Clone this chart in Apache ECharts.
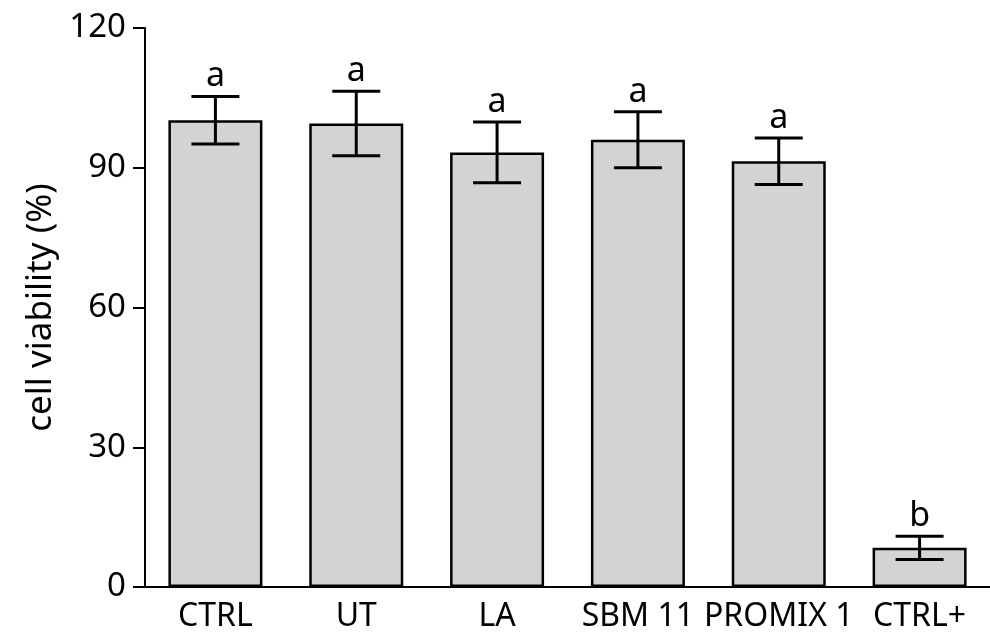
<!DOCTYPE html>
<html>
<head>
<meta charset="utf-8">
<script src="https://cdn.jsdelivr.net/npm/echarts@6/dist/echarts.min.js"></script>
<style>
  html, body { margin: 0; padding: 0; background: #fff; }
  #chart { width: 990px; height: 641px; }
</style>
</head>
<body>
<div id="chart"></div>
<script>
// data
const categories = ["CTRL", "UT", "LA", "SBM 11", "PROMIX 1", "CTRL+"]
const viability = [100.2, 99.5, 93.3, 96.0, 91.4, 8.4]
const errors = [5.1, 6.9, 6.5, 6.0, 5.0, 2.5]
const letters = ["a", "a", "a", "a", "a", "b"]
const yTicks = [0, 30, 60, 90, 120]

const font = "'Noto Sans', 'Open Sans', sans-serif"

const chart = echarts.init(document.getElementById("chart"))

const errData = categories.map((c, i) => [i, viability[i] - errors[i], viability[i] + errors[i], letters[i]])

chart.setOption({
  animation: false,
  grid: { left: 145, right: -3, top: 28, bottom: 54 },
  xAxis: {
    type: "category",
    data: categories,
    axisLine: { lineStyle: { color: "#000", width: 2 } },
    axisTick: { alignWithLabel: true, length: 15, lineStyle: { color: "#000", width: 2 } },
    axisLabel: { color: "#000", fontSize: 32, fontFamily: font, margin: 14, interval: 0 }
  },
  yAxis: {
    type: "value",
    min: yTicks[0],
    max: yTicks[yTicks.length - 1],
    interval: 30,
    name: "cell viability (%)",
    nameLocation: "middle",
    nameGap: 84,
    nameTextStyle: { color: "#000", fontSize: 35, fontFamily: font },
    splitLine: { show: false },
    axisLine: { show: true, lineStyle: { color: "#000", width: 2 } },
    axisTick: { show: true, length: 12, lineStyle: { color: "#000", width: 2 } },
    axisLabel: { color: "#000", fontSize: 33, fontFamily: font, margin: 19 }
  },
  series: [
    {
      type: "bar",
      data: viability,
      barWidth: 94,
      itemStyle: { color: "#d3d3d3", borderColor: "#000", borderWidth: 2.5 }
    },
    {
      type: "custom",
      data: errData,
      z: 10,
      renderItem: (params, api) => {
        const lo = api.coord([api.value(0), api.value(1)])
        const hi = api.coord([api.value(0), api.value(2)])
        const half = 24
        const style = { stroke: "#000", lineWidth: 3 }
        return {
          type: "group",
          children: [
            { type: "line", shape: { x1: hi[0], y1: hi[1], x2: lo[0], y2: lo[1] }, style },
            { type: "line", shape: { x1: hi[0] - half, y1: hi[1], x2: hi[0] + half, y2: hi[1] }, style },
            { type: "line", shape: { x1: lo[0] - half, y1: lo[1], x2: lo[0] + half, y2: lo[1] }, style },
            {
              type: "text",
              x: hi[0],
              y: hi[1] - 3,
              style: {
                text: letters[params.dataIndex],
                fill: "#000",
                font: "34px " + font,
                align: "center",
                verticalAlign: "bottom"
              }
            }
          ]
        }
      }
    }
  ]
})
</script>
</body>
</html>
